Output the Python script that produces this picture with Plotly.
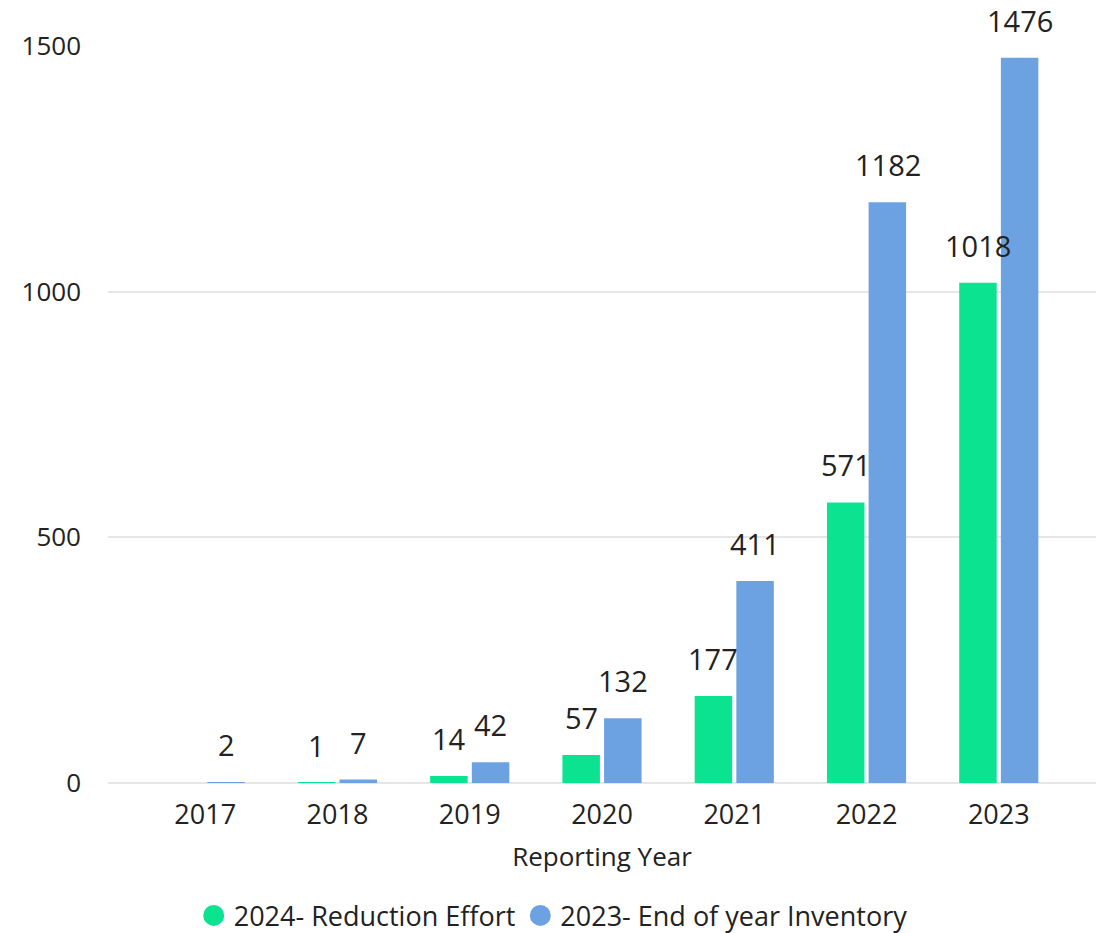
import plotly.graph_objects as go

years = ["2017", "2018", "2019", "2020", "2021", "2022", "2023"]
reduction_effort = [None, 1, 14, 57, 177, 571, 1018]
eoy_inventory = [2, 7, 42, 132, 411, 1182, 1476]
y_ticks = [0, 500, 1000, 1500]

series_names = ["2024- Reduction Effort", "2023- End of year Inventory"]
colors = ["#0BE391", "#6CA2E2"]

FONT = "Open Sans"
TXT = "#222222"

fig = go.Figure()
for name, vals, col in zip(series_names, [reduction_effort, eoy_inventory], colors):
    fig.add_trace(go.Bar(x=years, y=vals, name=name, marker=dict(color=col, line_width=0),
                         showlegend=False))
# legend entries with circular symbols
for name, col in zip(series_names, colors):
    fig.add_trace(go.Scatter(x=[None], y=[None], mode="markers", name=name,
                             marker=dict(symbol="circle", size=16, color=col,
                                         line=dict(color=col, width=5))))

OFFSET = 21
for k, vals in enumerate([reduction_effort, eoy_inventory]):
    sh = -OFFSET if k == 0 else OFFSET
    for i, v in enumerate(vals):
        if v is None:
            continue
        fig.add_annotation(x=i, y=v, xref="x", yref="y", text=str(v), showarrow=False,
                           xshift=sh, yanchor="bottom", yshift=17, borderpad=0,
                           font=dict(family=FONT, size=29, color=TXT))

fig.update_layout(
    width=1102, height=933,
    margin=dict(l=108, r=6, t=46, b=150),
    paper_bgcolor="white", plot_bgcolor="white",
    barmode="group", bargap=0.37, bargroupgap=0.1,
    font=dict(family=FONT, size=26, color=TXT),
    legend=dict(orientation="h", xref="container", yref="container",
                x=0.502, xanchor="center", y=0.0184, yanchor="middle",
                font=dict(family=FONT, size=27, color=TXT),
                itemwidth=30, tracegroupgap=0),
    xaxis=dict(type="category", range=[-0.735, 6.735], showgrid=False,
               showline=False, zeroline=False, ticks="",
               ticklabelstandoff=13, tickfont=dict(size=27),
               title=dict(text="Reporting Year", standoff=16,
                          font=dict(family=FONT, size=26, color=TXT))),
    yaxis=dict(range=[0, 1500], tickvals=y_ticks, showgrid=True,
               gridcolor="#E6E6E6", gridwidth=2, zeroline=True,
               zerolinecolor="#E6E6E6", zerolinewidth=2, ticks="",
               ticklabelstandoff=26, showline=False, tickfont=dict(size=26)),
)

fig.write_html("out.html", config={"displayModeBar": False},
               post_script="document.body.style.margin='0';")
